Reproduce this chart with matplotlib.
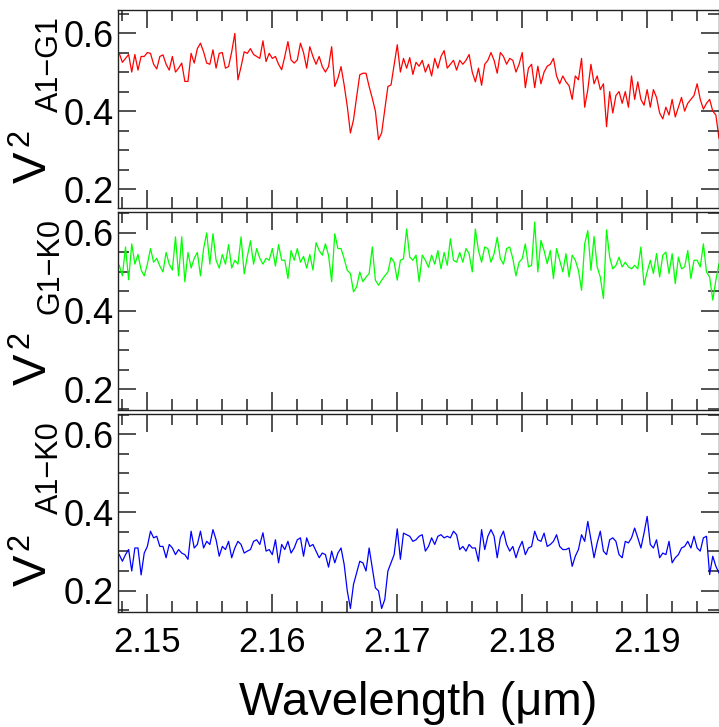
import numpy as np
import matplotlib
matplotlib.use("Agg")
import matplotlib.pyplot as plt
from matplotlib.ticker import MultipleLocator

plt.rcParams["font.family"] = ["Liberation Sans", "DejaVu Sans"]

# wavelength sampling (um)
WAVE_START = 2.1478
WAVE_STEP = 0.00025

V2_A1_G1 = [
    0.548, 0.525, 0.535, 0.545, 0.50, 0.545, 0.505, 0.54, 0.54, 0.55,
    0.548, 0.52, 0.508, 0.54, 0.544, 0.52, 0.505, 0.54, 0.50, 0.51,
    0.523, 0.476, 0.476, 0.548, 0.523, 0.56, 0.574, 0.552, 0.523, 0.52,
    0.557, 0.51, 0.548, 0.55, 0.51, 0.514, 0.552, 0.599, 0.48, 0.514,
    0.552, 0.548, 0.56, 0.545, 0.54, 0.535, 0.58, 0.527, 0.548, 0.535,
    0.54, 0.52, 0.506, 0.54, 0.578, 0.531, 0.523, 0.531, 0.574, 0.55,
    0.51, 0.565, 0.54, 0.52, 0.54, 0.514, 0.50, 0.514, 0.565, 0.463,
    0.484, 0.514, 0.467, 0.412, 0.344, 0.378, 0.437, 0.493, 0.497, 0.497,
    0.463, 0.433, 0.40, 0.327, 0.344, 0.404, 0.463, 0.467, 0.518, 0.57,
    0.50, 0.535, 0.51, 0.537, 0.494, 0.525, 0.515, 0.53, 0.50, 0.52,
    0.49, 0.535, 0.51, 0.54, 0.555, 0.51, 0.52, 0.53, 0.505, 0.53,
    0.52, 0.53, 0.545, 0.50, 0.475, 0.51, 0.466, 0.52, 0.53, 0.55,
    0.53, 0.497, 0.55, 0.54, 0.52, 0.535, 0.53, 0.50, 0.52, 0.55,
    0.46, 0.51, 0.52, 0.46, 0.515, 0.47, 0.50, 0.515, 0.52, 0.535,
    0.49, 0.47, 0.49, 0.475, 0.465, 0.43, 0.49, 0.48, 0.535, 0.41,
    0.455, 0.52, 0.47, 0.49, 0.455, 0.47, 0.36, 0.45, 0.395, 0.44,
    0.45, 0.42, 0.45, 0.41, 0.49, 0.43, 0.475, 0.43, 0.415, 0.455,
    0.41, 0.455, 0.435, 0.395, 0.38, 0.41, 0.39, 0.43, 0.385, 0.41,
    0.435, 0.40, 0.42, 0.43, 0.44, 0.47, 0.43, 0.405, 0.42, 0.43,
    0.40, 0.39, 0.33,
]

V2_G1_K0 = [
    0.517, 0.49, 0.564, 0.48, 0.572, 0.52, 0.545, 0.505, 0.49, 0.52,
    0.56, 0.525, 0.535, 0.515, 0.50, 0.55, 0.52, 0.505, 0.59, 0.49,
    0.59, 0.475, 0.55, 0.51, 0.535, 0.55, 0.49, 0.56, 0.60, 0.52,
    0.598, 0.53, 0.51, 0.545, 0.52, 0.57, 0.51, 0.53, 0.52, 0.59,
    0.495, 0.54, 0.58, 0.52, 0.56, 0.535, 0.52, 0.535, 0.53, 0.56,
    0.515, 0.57, 0.53, 0.53, 0.483, 0.555, 0.53, 0.56, 0.525, 0.54,
    0.51, 0.545, 0.505, 0.575,
    0.555, 0.543, 0.572, 0.543, 0.475, 0.598, 0.56, 0.56, 0.534, 0.504,
    0.496, 0.449, 0.462, 0.50, 0.475, 0.487, 0.496, 0.564, 0.479, 0.466,
    0.479, 0.49, 0.50, 0.537, 0.525, 0.479, 0.53, 0.534, 0.61, 0.538,
    0.53, 0.543, 0.475, 0.543, 0.53, 0.512, 0.543, 0.52, 0.555, 0.508,
    0.55, 0.517, 0.585, 0.53, 0.525, 0.55, 0.525, 0.56, 0.547, 0.50,
    0.61, 0.555, 0.525, 0.564, 0.56, 0.525, 0.547, 0.589, 0.534, 0.52,
    0.56, 0.564, 0.534, 0.49,
    0.525, 0.534, 0.572, 0.513, 0.517, 0.628, 0.50, 0.581, 0.555, 0.521,
    0.555, 0.483, 0.56, 0.53, 0.50, 0.547, 0.487, 0.543, 0.53, 0.504,
    0.453, 0.572, 0.606, 0.504, 0.591, 0.513, 0.487, 0.432, 0.608, 0.538,
    0.508, 0.517, 0.538, 0.513, 0.525, 0.513, 0.508, 0.517, 0.508, 0.564,
    0.466, 0.50, 0.53, 0.496, 0.547, 0.487, 0.543, 0.551, 0.496, 0.547,
    0.47, 0.538, 0.508, 0.513, 0.555, 0.483, 0.53, 0.53, 0.513, 0.572,
    0.50, 0.487, 0.428, 0.479, 0.521,
]

V2_A1_K0 = [
    0.292, 0.275, 0.292, 0.305, 0.25, 0.309, 0.309, 0.24, 0.296, 0.313,
    0.352, 0.335, 0.339, 0.313, 0.313, 0.284, 0.318, 0.309, 0.292, 0.305,
    0.296, 0.292, 0.28, 0.352, 0.309, 0.318, 0.352, 0.309, 0.326, 0.318,
    0.356, 0.33, 0.288, 0.313, 0.305, 0.326, 0.284, 0.309, 0.326, 0.318,
    0.296, 0.301, 0.305, 0.326, 0.33, 0.318, 0.348, 0.301, 0.305, 0.292,
    0.33, 0.271, 0.318, 0.305, 0.326, 0.296, 0.309, 0.33, 0.335, 0.288,
    0.335, 0.313, 0.318, 0.301, 0.284, 0.296, 0.292, 0.26, 0.301, 0.271,
    0.296, 0.309, 0.267, 0.199, 0.154, 0.216, 0.245, 0.275, 0.271, 0.25,
    0.309, 0.258, 0.207, 0.199, 0.154, 0.177, 0.25, 0.271, 0.292, 0.358,
    0.28, 0.347, 0.343, 0.339, 0.326, 0.33, 0.339, 0.343, 0.301, 0.313,
    0.335, 0.318, 0.339, 0.343, 0.335, 0.339, 0.335, 0.352, 0.343, 0.305,
    0.313, 0.301, 0.318, 0.309, 0.309, 0.275, 0.356, 0.305, 0.339, 0.356,
    0.339, 0.284, 0.335, 0.352, 0.318, 0.301, 0.313, 0.284, 0.309, 0.326,
    0.292, 0.309, 0.313, 0.352, 0.33, 0.326, 0.347, 0.313, 0.318, 0.326,
    0.343, 0.313, 0.305, 0.305, 0.309, 0.262, 0.288, 0.305, 0.343, 0.326,
    0.377, 0.33, 0.284, 0.322, 0.352, 0.301, 0.292, 0.33, 0.335, 0.326,
    0.292, 0.284, 0.326, 0.322, 0.335, 0.36, 0.335, 0.309, 0.347, 0.39,
    0.318, 0.309, 0.33, 0.284, 0.296, 0.292, 0.326, 0.271, 0.284, 0.292,
    0.309, 0.313, 0.326, 0.309, 0.339, 0.309, 0.301, 0.335, 0.339, 0.241,
    0.288, 0.262, 0.245,
]

SERIES = [V2_A1_G1, V2_G1_K0, V2_A1_K0]
BASELINES = ["A1\u2212G1", "G1\u2212K0", "A1\u2212K0"]
COLORS = ["#ff0000", "#00ff00", "#0000ff"]
YLIMS = [(0.151, 0.659), (0.146, 0.654), (0.145, 0.653)]

wave = WAVE_START + WAVE_STEP * np.arange(len(V2_A1_G1))

fig = plt.figure(figsize=(7.19, 7.27), dpi=100)
gs = fig.add_gridspec(3, 1, left=118 / 719, right=1.0,
                      top=1 - 10 / 727, bottom=1 - 612 / 727, hspace=0.018)
axes = [fig.add_subplot(gs[k]) for k in range(3)]

spine_col = "#222222"
ax_w, ax_h = 601.0, 199.0


def px(dx, dy):
    # pixel offsets from the left spine / panel centre -> axes fraction
    return dx / ax_w, 0.5 - dy / ax_h


for ax, vals, base, col, ylim in zip(axes, SERIES, BASELINES, COLORS, YLIMS):
    ax.plot(wave, vals, color=col, lw=0.9)
    ax.set_xlim(2.1477, 2.1958)
    ax.set_ylim(*ylim)
    ax.xaxis.set_major_locator(MultipleLocator(0.01))
    ax.xaxis.set_minor_locator(MultipleLocator(0.002))
    ax.yaxis.set_major_locator(MultipleLocator(0.2))
    ax.yaxis.set_minor_locator(MultipleLocator(0.05))
    ax.tick_params(which="both", direction="in", top=True, right=True,
                   color=spine_col, width=1.1, pad=3)
    ax.tick_params(axis="y", labelsize=26)
    ax.tick_params(axis="x", labelsize=25)
    ax.tick_params(which="major", length=13)
    ax.tick_params(which="minor", length=8)
    for s in ax.spines.values():
        s.set_color(spine_col)
        s.set_linewidth(1.0)
    # y label: V, superscript 2, subscript baseline name
    kw = dict(transform=ax.transAxes, rotation=90, ha="center", va="center")
    ax.text(*px(-84, 58), "V", fontsize=34, **kw)
    ax.text(*px(-98, 29), "2", fontsize=22, **kw)
    ax.text(*px(-68, -45), base, fontsize=22, **kw)
    if ax is not axes[-1]:
        ax.tick_params(labelbottom=False)

axes[-1].xaxis.set_major_formatter(plt.FuncFormatter(lambda v, p: f"{v:.2f}"))
axes[-1].tick_params(axis="x", pad=10)
axes[-1].set_xlabel("Wavelength (μm)", fontsize=34, labelpad=16)

fig.savefig("out.png", dpi=100)
